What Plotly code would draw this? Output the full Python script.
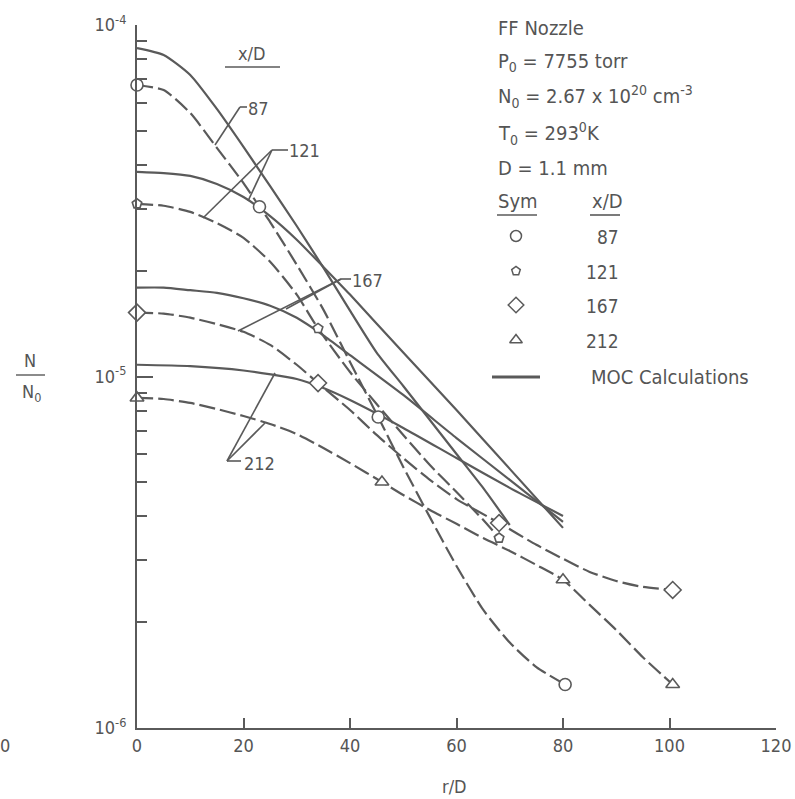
import plotly.graph_objects as go

# ---------------- data (r/D , N/N0) ----------------
# MOC calculations (solid lines)
r_moc_87 = [0, 5, 10, 15, 20, 25, 30, 35, 40, 45, 50, 55, 60, 65, 70]
n_moc_87 = [8.60e-5, 8.22e-5, 7.21e-5, 5.77e-5, 4.50e-5, 3.48e-5, 2.68e-5, 2.04e-5,
            1.54e-5, 1.17e-5, 9.40e-6, 7.52e-6, 6.02e-6, 4.82e-6, 3.78e-6]
r_moc_121 = [0, 5, 10, 15, 20, 25, 30, 35, 40, 50, 60, 70, 80]
n_moc_121 = [3.82e-5, 3.79e-5, 3.72e-5, 3.53e-5, 3.24e-5, 2.86e-5, 2.45e-5, 2.05e-5,
             1.71e-5, 1.17e-5, 8.03e-6, 5.46e-6, 3.71e-6]
r_moc_167 = [0, 5, 10, 15, 20, 25, 30, 35, 40, 50, 60, 70, 80]
n_moc_167 = [1.79e-5, 1.79e-5, 1.76e-5, 1.73e-5, 1.67e-5, 1.59e-5, 1.47e-5, 1.31e-5,
             1.15e-5, 8.86e-6, 6.68e-6, 5.08e-6, 3.86e-6]
r_moc_212 = [0, 10, 20, 30, 35, 40, 50, 60, 70, 80]
n_moc_212 = [1.08e-5, 1.07e-5, 1.04e-5, 9.84e-6, 9.27e-6, 8.57e-6, 7.14e-6, 5.86e-6,
             4.82e-6, 4.01e-6]

# faired experimental curves (dashed lines)
r_fit_87 = [0, 5, 10, 15, 20, 23, 25, 30, 35, 40, 45.3, 50, 55, 60, 65, 70, 75, 80.4]
n_fit_87 = [6.75e-5, 6.53e-5, 5.62e-5, 4.47e-5, 3.55e-5, 3.04e-5, 2.75e-5, 2.08e-5,
            1.55e-5, 1.10e-5, 7.67e-6, 5.53e-6, 3.98e-6, 2.89e-6, 2.17e-6, 1.75e-6,
            1.49e-6, 1.33e-6]
r_fit_121 = [0, 5, 10, 15, 20, 25, 30, 34, 40, 45, 50, 55, 60, 65, 68]
n_fit_121 = [3.10e-5, 3.06e-5, 2.94e-5, 2.73e-5, 2.48e-5, 2.12e-5, 1.71e-5, 1.37e-5,
             1.03e-5, 8.35e-6, 6.82e-6, 5.60e-6, 4.69e-6, 3.91e-6, 3.47e-6]
r_fit_167 = [0, 5, 10, 15, 20, 25, 30, 34, 40, 45, 50, 55, 60, 68, 75, 80, 85, 90, 95, 100.6]
n_fit_167 = [1.52e-5, 1.51e-5, 1.47e-5, 1.41e-5, 1.34e-5, 1.23e-5, 1.08e-5, 9.58e-6,
             8.03e-6, 6.82e-6, 5.86e-6, 5.08e-6, 4.48e-6, 3.83e-6, 3.32e-6, 3.03e-6,
             2.78e-6, 2.62e-6, 2.52e-6, 2.47e-6]
r_fit_212 = [0, 5, 10, 15, 20, 25, 30, 35, 40, 46, 50, 55, 60, 65, 70, 75, 80, 85, 90, 95, 100.6]
n_fit_212 = [8.69e-6, 8.63e-6, 8.41e-6, 8.08e-6, 7.72e-6, 7.33e-6, 6.86e-6, 6.26e-6,
             5.67e-6, 5.01e-6, 4.60e-6, 4.17e-6, 3.81e-6, 3.47e-6, 3.19e-6, 2.91e-6,
             2.64e-6, 2.24e-6, 1.90e-6, 1.59e-6, 1.33e-6]

# measured points (symbols)
r_sym_87 = [0, 23, 45.3, 80.4]
n_sym_87 = [6.75e-5, 3.04e-5, 7.67e-6, 1.33e-6]
r_sym_121 = [0, 34, 68]
n_sym_121 = [3.10e-5, 1.37e-5, 3.47e-6]
r_sym_167 = [0, 34, 68, 100.6]
n_sym_167 = [1.52e-5, 9.58e-6, 3.83e-6, 2.47e-6]
r_sym_212 = [0, 46, 80, 100.6]
n_sym_212 = [8.69e-6, 5.01e-6, 2.64e-6, 1.33e-6]

x_ticks = [0, 20, 40, 60, 80, 100, 120]
y_ticks = [1e-6, 1e-5, 1e-4]
y_ticktext = ["10<sup>-6</sup>", "10<sup>-5</sup>", "10<sup>-4</sup>"]
y_minor = [m * 10.0 ** e for e in (-6, -5) for m in range(2, 10)]
xd_labels = ["87", "121", "167", "212"]

# ---------------- styling ----------------
W, H = 795, 799
L, R, T, B = 137, 19, 25, 71
LINE = "#5a5a5a"
TXT = "#555555"
FONT = "DejaVu Sans Condensed, Liberation Sans Narrow, DejaVu Sans, sans-serif"
DASH = "16px,5px"


def px(x):
    return (x - L) / (W - L - R)


def py(y):
    return (H - B - y) / (H - T - B)


fig = go.Figure()

series = [
    (r_moc_87, n_moc_87, r_fit_87, n_fit_87, r_sym_87, n_sym_87, "circle", 12),
    (r_moc_121, n_moc_121, r_fit_121, n_fit_121, r_sym_121, n_sym_121, "pentagon", 10),
    (r_moc_167, n_moc_167, r_fit_167, n_fit_167, r_sym_167, n_sym_167, "diamond", 13),
    (r_moc_212, n_moc_212, r_fit_212, n_fit_212, r_sym_212, n_sym_212, "triangle-up", 12),
]
for (rm, nm, rf, nf, rs, ns, sym, sz) in series:
    fig.add_trace(go.Scatter(x=rm, y=nm, mode="lines",
                             line=dict(color=LINE, width=2.2, shape="spline", smoothing=0.6),
                             showlegend=False, hoverinfo="skip"))
    fig.add_trace(go.Scatter(x=rf, y=nf, mode="lines",
                             line=dict(color=LINE, width=2.2, dash=DASH, shape="spline", smoothing=0.6),
                             showlegend=False, hoverinfo="skip"))
for (rm, nm, rf, nf, rs, ns, sym, sz) in series:
    fig.add_trace(go.Scatter(x=rs, y=ns, mode="markers", cliponaxis=False,
                             marker=dict(symbol=sym, size=sz, color="white", line=dict(color=LINE, width=1.6)),
                             showlegend=False))

# legend symbols (overlay axes spanning the plot area)
leg_y = [236, 271, 305, 340]
for (s, ly) in zip(series, leg_y):
    fig.add_trace(go.Scatter(x=[px(516)], y=[py(ly)], xaxis="x2", yaxis="y2", mode="markers",
                             marker=dict(symbol=s[6], size=s[7] - 1, color="white", line=dict(color=LINE, width=1.5)),
                             showlegend=False, cliponaxis=False))

fig.update_layout(
    width=W, height=H, margin=dict(l=L, r=R, t=T, b=B, autoexpand=False),
    paper_bgcolor="white", plot_bgcolor="white", showlegend=False,
    font=dict(family=FONT, color=TXT, size=18),
    xaxis=dict(range=[0, 120], tickvals=x_ticks, ticks="inside", ticklen=10, tickwidth=2, tickcolor=LINE,
               showline=True, linecolor=LINE, linewidth=2, showgrid=False, zeroline=False, automargin=False,
               tickfont=dict(size=18, color=TXT, family=FONT)),
    yaxis=dict(type="log", range=[-6, -4], tickvals=y_ticks, ticktext=y_ticktext, ticks="inside",
               ticklen=16, tickwidth=2, tickcolor=LINE, showline=True, linecolor=LINE, linewidth=2,
               showgrid=False, zeroline=False, automargin=False, ticklabelstandoff=5,
               tickfont=dict(size=18, color=TXT, family=FONT),
               minor=dict(tickvals=y_minor, ticks="inside", ticklen=10, tickwidth=2, tickcolor=LINE)),
    xaxis2=dict(range=[0, 1], overlaying="x", visible=False),
    yaxis2=dict(range=[0, 1], overlaying="y", visible=False),
)

shapes = []
annots = []


def seg(x0, y0, x1, y1, w=1.6):
    shapes.append(dict(type="line", xref="paper", yref="paper", x0=px(x0), y0=py(y0), x1=px(x1), y1=py(y1),
                       line=dict(color=LINE, width=w)))


def txt(x, y, s, size=18, xa="left"):
    annots.append(dict(xref="paper", yref="paper", x=px(x), y=py(y), text=s, showarrow=False,
                       xanchor=xa, yanchor="middle", font=dict(size=size, color=TXT, family=FONT)))


# curve labels and leaders
txt(246, 108, xd_labels[0], 18)
seg(247, 107, 240, 107); seg(240, 107, 215, 145)
txt(287, 150, xd_labels[1], 18)
seg(288, 150, 272, 150); seg(272, 150, 203, 218); seg(272, 150, 248, 201)
txt(350, 280, xd_labels[2], 18)
seg(351, 279, 341, 279); seg(341, 279, 238, 331); seg(341, 279, 286, 309)
txt(242, 463, xd_labels[3], 18)
seg(241, 461, 227, 461); seg(227, 461, 275, 373); seg(227, 461, 265, 423)

# x/D header
txt(252, 53, "x/D", 18, "center")
seg(225, 67, 280, 67)

# info block
txt(496, 28, "FF Nozzle", 20)
txt(496, 62, "P<sub>0</sub> = 7755 torr", 20)
txt(496, 97, "N<sub>0</sub> = 2.67 x 10<sup>20</sup> cm<sup>-3</sup>", 20)
txt(496, 133, "T<sub>0</sub> = 293<sup>0</sup>K", 20)
txt(496, 168, "D = 1.1 mm", 20)
txt(496, 201, "Sym", 20)
seg(497, 215, 537, 215)
txt(590, 201, "x/D", 20)
seg(590, 215, 620, 215)
for lab, ly in zip(xd_labels, leg_y):
    txt(621, ly + 1, lab, 19, "right")
seg(492, 377, 540, 377, 3)
txt(589, 377, "MOC Calculations", 20)

# axis titles
txt(454, 786, "r/D", 18, "center")
txt(30, 360, "N", 18, "center")
seg(16, 375, 45, 375, 1.4)
txt(31, 393, "N<sub>0</sub>", 18, "center")
txt(5, 745, "0", 18, "center")

fig.update_layout(shapes=shapes, annotations=annots)
fig.write_html("out.html", config={"displayModeBar": False},
               post_script="document.body.style.margin='0px';")
